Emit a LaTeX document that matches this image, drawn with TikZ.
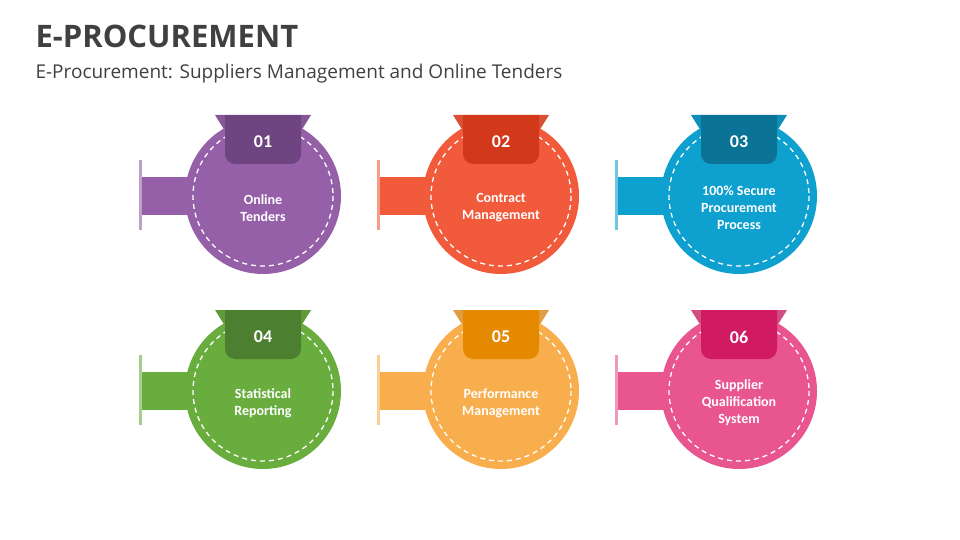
\documentclass[tikz,border=0pt]{standalone}
\usepackage{fontspec}
\setmainfont{Open Sans}
\newfontfamily\calfont{Carlito}
\begin{document}
\begin{tikzpicture}[x=1pt,y=-1pt,
  lbl/.style={text=white,font=\calfont\bfseries\fontsize{14}{17}\selectfont,align=center},
  num/.style={text=white,font=\calfont\bfseries\fontsize{18}{20}\selectfont}]
\useasboundingbox (0,0) rectangle (960,540);
\node[anchor=west,font=\bfseries\fontsize{31}{36}\selectfont,text=black!75] (title) at (32,36) {E-PROCUREMENT};
\node[anchor=west,font=\fontsize{19}{22}\selectfont,text=black!75] (sub) at (32,74) {E-Procurement: Suppliers Management and Online Tenders};
\newcommand{\procitem}[7]{%
 \begin{scope}[shift={(#1,#2)}]
  \fill[#3!90!black] (-48,-81) -- (-38,-81) -- (-38,-65) -- cycle;
  \fill[#3!90!black] (48,-81) -- (38,-81) -- (38,-65) -- cycle;
  \fill[#3,opacity=0.6] (-124,-36) rectangle (-121,34);
  \fill[#3] (-121,-19) rectangle (-50,19);
  \fill[#3] (0,0) circle (78);
  \draw[white,line width=1.3pt,dash pattern=on 5pt off 4pt] (0,0) circle (70);
  \fill[#4] (-38,-81) -- (38,-81) -- (38,-42) arc (0:90:10) -- (-28,-32) arc (90:180:10) -- cycle;
  \node[num] (n#7) at (0,-54) {#5};
  \node[lbl] (t#7) at (0,12) {#6};
 \end{scope}}
\definecolor{c1}{HTML}{9560A8}\definecolor{d1}{HTML}{6E4580}
\definecolor{c2}{HTML}{F15A3A}\definecolor{d2}{HTML}{D2391A}
\definecolor{c3}{HTML}{0EA0CF}\definecolor{d3}{HTML}{0A7396}
\definecolor{c4}{HTML}{6AAD3F}\definecolor{d4}{HTML}{4C7F30}
\definecolor{c5}{HTML}{F8AE4C}\definecolor{d5}{HTML}{E58A00}
\definecolor{c6}{HTML}{E8558F}\definecolor{d6}{HTML}{D01B63}
\procitem{263}{196}{c1}{d1}{01}{Online\\Tenders}{a}
\procitem{501}{196}{c2}{d2}{02}{Contract\\Management}{b}
\procitem{739}{196}{c3}{d3}{03}{100\% Secure\\Procurement\\Process}{c}
\procitem{263}{391}{c4}{d4}{04}{Statistical\\Reporting}{d}
\procitem{501}{391}{c5}{d5}{05}{Performance\\Management}{e}
\procitem{739}{391}{c6}{d6}{06}{Supplier\\Qualification\\System}{f}
\end{tikzpicture}
\end{document}
